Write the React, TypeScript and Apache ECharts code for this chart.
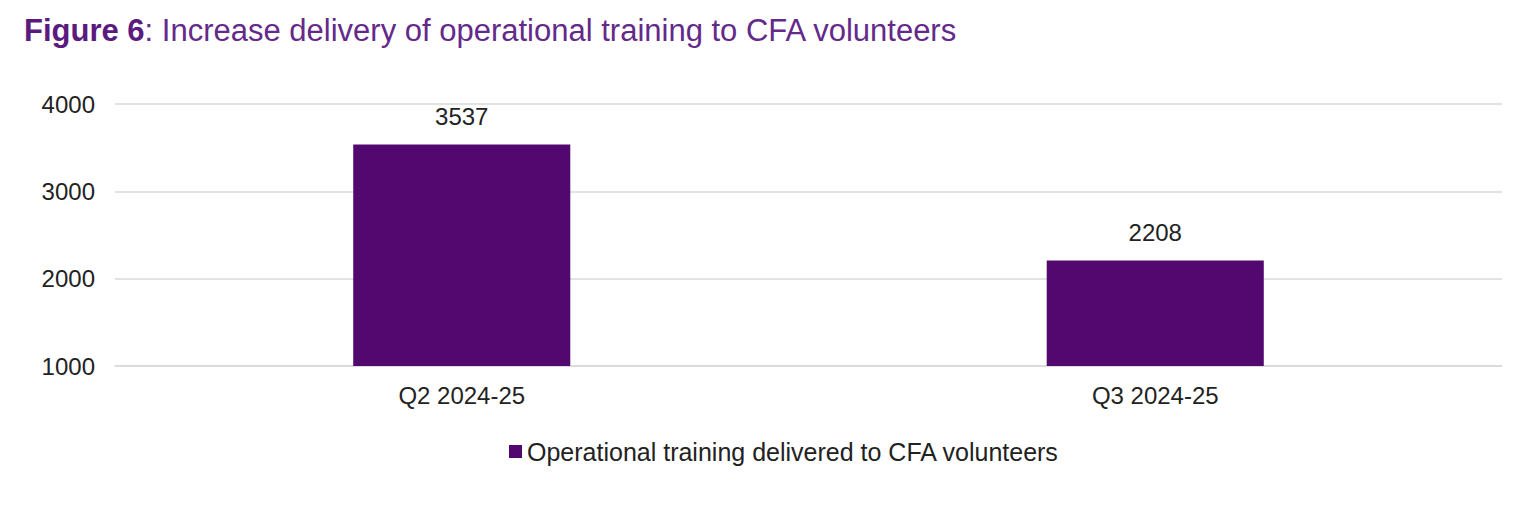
import React, { useEffect, useRef } from 'react';
import * as echarts from 'echarts';

const categories = ['Q2 2024-25', 'Q3 2024-25'];
const trainingDelivered = [3537, 2208];
const seriesName = 'Operational training delivered to CFA volunteers';

const FONT = '"Liberation Sans", Arial, sans-serif';
const PURPLE = '#52086f';

const App: React.FC = () => {
  const ref = useRef<HTMLDivElement>(null);

  useEffect(() => {
    if (!ref.current) return;
    document.body.style.margin = '0';
    const chart = echarts.init(ref.current, null, { renderer: 'svg' });

    const option: echarts.EChartsOption = {
      animation: false,
      title: {
        text: '{b|Figure 6}{n|: Increase delivery of operational training to CFA volunteers}',
        left: 19,
        top: 10,
        textStyle: {
          rich: {
            b: { fontFamily: FONT, fontSize: 31, fontWeight: 'bold', color: '#5a1a7e' },
            n: { fontFamily: FONT, fontSize: 31, fontWeight: 'normal', color: '#642a8a' }
          }
        }
      },
      legend: {
        data: [seriesName],
        top: 434,
        left: 504,
        itemWidth: 13,
        itemHeight: 13,
        itemGap: 4,
        icon: 'rect',
        textStyle: { fontFamily: FONT, fontSize: 25, color: '#222' }
      },
      grid: {
        left: 115,
        right: 34,
        top: 104,
        bottom: 142
      },
      xAxis: {
        type: 'category',
        data: categories,
        axisLine: { show: true, lineStyle: { color: '#d9d9d9', width: 1.5 } },
        axisTick: { show: false },
        axisLabel: { fontFamily: FONT, fontSize: 24, color: '#222', margin: 17 }
      },
      yAxis: {
        type: 'value',
        min: 1000,
        max: 4000,
        interval: 1000,
        axisLine: { show: false },
        axisTick: { show: false },
        axisLabel: {
          fontFamily: FONT,
          fontSize: 24,
          color: '#222',
          margin: 20,
          formatter: (v: number) => String(v)
        },
        splitLine: { lineStyle: { color: '#d9d9d9', width: 1.5 } }
      },
      series: [
        {
          name: seriesName,
          type: 'bar',
          data: trainingDelivered,
          barWidth: '31.3%',
          itemStyle: { color: PURPLE },
          label: {
            show: true,
            position: 'top',
            distance: 16,
            fontFamily: FONT,
            fontSize: 24,
            color: '#222'
          }
        }
      ]
    };

    chart.setOption(option);

    return () => {
      chart.dispose();
    };
  }, []);

  return <div ref={ref} style={{ width: '1536px', height: '508px' }}></div>;
};

export default App;
